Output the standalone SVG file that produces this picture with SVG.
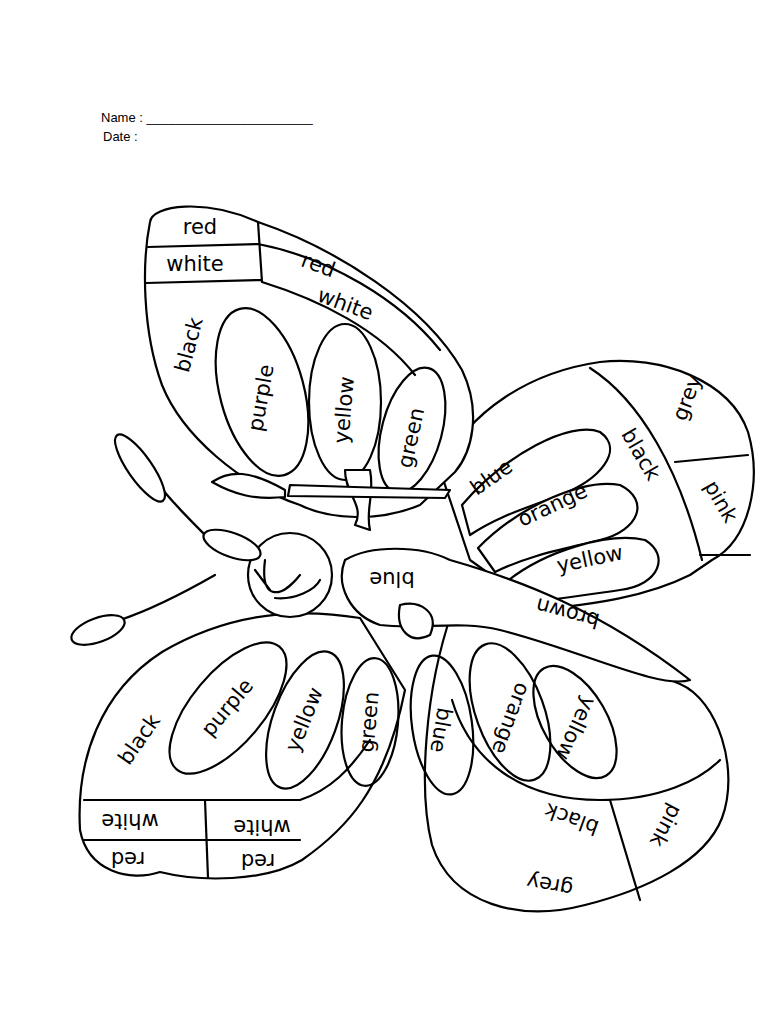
<svg xmlns="http://www.w3.org/2000/svg" width="768" height="1024" viewBox="0 0 768 1024">
<style>
.l{fill:none;stroke:#000;stroke-width:2.2;stroke-linecap:round;stroke-linejoin:round}
.w{fill:#fff;stroke:#000;stroke-width:2.2;stroke-linejoin:round}
.t{font-family:"DejaVu Sans",sans-serif;font-size:21px;fill:#000;text-anchor:middle;dominant-baseline:middle}
.h{font-family:"Liberation Sans",Arial,sans-serif;font-size:13px;fill:#000}
</style>
<rect width="768" height="1024" fill="#fff"/>
<text class="h" x="101" y="122">Name : _______________________</text>
<text class="h" x="103" y="141">Date   :</text>

<!-- upper right wing -->
<path class="w" d="M440,470 C470,410 530,372 600,362 C660,355 730,380 748,432 C762,480 750,540 712,560 L690,575 C640,600 580,605 540,610 L470,560 Z"/>
<path class="l" d="M590,368 C640,400 680,470 702,560 M675,462 L748,455 M700,555 L750,555"/>
<path class="w" d="M462,505 C505,455 570,420 600,432 C625,450 600,480 560,495 C530,507 500,515 470,535 Z"/>
<path class="w" d="M478,548 C520,505 585,478 620,485 C650,500 640,530 600,540 C560,550 530,555 495,572 Z"/>
<path class="w" d="M505,583 C545,550 610,532 645,540 C670,555 660,585 620,590 C580,596 545,600 520,605 Z"/>

<!-- upper left wing -->
<path class="w" d="M150,222 C152,205 205,198 258,222 C335,248 425,305 462,370 C482,412 472,452 455,472 L420,505 C380,522 330,520 300,505 C240,485 182,435 162,385 C142,330 142,262 150,222 Z"/>
<path class="l" d="M148,247 L258,244 M146,283 L262,280 M258,222 L262,282 M258,244 C330,258 400,300 440,350 M262,282 C320,300 380,330 415,375"/>
<ellipse class="l" cx="262" cy="392" rx="42" ry="86" transform="rotate(-15 262 392)"/>
<ellipse class="l" cx="345" cy="402" rx="36" ry="78"/>
<ellipse class="l" cx="412" cy="430" rx="30" ry="64" transform="rotate(15 412 430)"/>

<!-- lower right wing -->
<path class="w" d="M452,612 C425,690 418,790 432,845 C452,905 520,922 585,905 C645,890 705,862 722,818 C740,770 718,700 680,684 L600,650 Z"/>
<path class="l" d="M452,700 C470,760 520,800 600,800 C660,800 700,780 720,760 M610,800 L640,900"/>
<ellipse class="l" cx="442" cy="725" rx="30" ry="70" transform="rotate(-8 442 725)"/>
<ellipse class="l" cx="510" cy="712" rx="34" ry="72" transform="rotate(-20 510 712)"/>
<ellipse class="l" cx="575" cy="722" rx="32" ry="62" transform="rotate(-30 575 722)"/>

<!-- lower left wing -->
<path class="w" d="M360,618 C300,608 230,612 162,652 C100,692 76,760 80,830 C88,872 130,882 160,872 C200,882 265,882 302,860 C345,830 385,790 405,690 Z"/>
<path class="l" d="M84,800 L300,800 M84,840 L300,840 M205,800 L208,878 M300,800 C330,790 350,770 370,740"/>
<ellipse class="l" cx="228" cy="708" rx="36" ry="80" transform="rotate(40 228 708)"/>
<ellipse class="l" cx="305" cy="720" rx="32" ry="72" transform="rotate(20 305 720)"/>
<ellipse class="l" cx="370" cy="722" rx="28" ry="64" transform="rotate(5 370 722)"/>

<!-- body -->
<path class="w" d="M345,560 C370,545 420,545 450,560 C520,580 600,610 690,680 C660,690 580,650 500,630 C460,620 420,630 380,625 C350,615 335,585 345,560 Z"/>
<path class="w" d="M355,525 C365,505 345,495 345,470 L370,470 C375,495 365,510 370,530 Z"/>
<path class="w" d="M290,485 L450,490 L445,498 L288,496 Z"/>
<path class="w" d="M285,490 C250,470 230,470 212,482 C235,495 255,500 285,497 Z"/>
<path class="l" d="M215,545 C190,520 170,500 155,480"/>
<ellipse class="w" cx="140" cy="468" rx="12" ry="40" transform="rotate(-35 140 468)"/>
<path class="l" d="M215,575 C180,595 150,610 120,620"/>
<ellipse class="w" cx="98" cy="630" rx="28" ry="12" transform="rotate(-20 98 630)"/>
<circle class="w" cx="290" cy="575" r="42"/>
<ellipse class="w" cx="232" cy="545" rx="30" ry="12" transform="rotate(20 232 545)"/>
<path class="l" d="M265,560 C260,600 280,600 300,575 M255,570 L270,590 M275,598 C295,600 315,590 320,580"/>
<path class="w" d="M400,605 C420,600 440,612 430,635 C410,645 395,630 400,605 Z"/>

<g class="t">
<text x="200" y="228">red</text>
<text x="195" y="265">white</text>
<text x="318" y="266" transform="rotate(20 318 266)">red</text>
<text x="345" y="305" transform="rotate(20 345 305)">white</text>
<text x="190" y="345" transform="rotate(-75 190 345)">black</text>
<text x="262" y="398" transform="rotate(-80 262 398)">purple</text>
<text x="345" y="410" transform="rotate(-85 345 410)">yellow</text>
<text x="412" y="438" transform="rotate(-78 412 438)">green</text>
<text x="688" y="398" transform="rotate(-70 688 398)">grey</text>
<text x="640" y="455" transform="rotate(60 640 455)">black</text>
<text x="720" y="502" transform="rotate(60 720 502)">pink</text>
<text x="492" y="478" transform="rotate(-35 492 478)">blue</text>
<text x="553" y="506" transform="rotate(-25 553 506)">orange</text>
<text x="590" y="560" transform="rotate(-12 590 560)">yellow</text>
<text x="568" y="612" transform="rotate(195 568 612)">brown</text>
<text x="392" y="578" transform="rotate(180 392 578)">blue</text>
<text x="140" y="740" transform="rotate(-55 140 740)">black</text>
<text x="228" y="708" transform="rotate(-50 228 708)">purple</text>
<text x="305" y="720" transform="rotate(-68 305 720)">yellow</text>
<text x="370" y="722" transform="rotate(-85 370 722)">green</text>
<text x="130" y="820" transform="rotate(180 130 820)">white</text>
<text x="262" y="826" transform="rotate(180 262 826)">white</text>
<text x="128" y="858" transform="rotate(180 128 858)">red</text>
<text x="258" y="860" transform="rotate(180 258 860)">red</text>
<text x="440" y="730" transform="rotate(100 440 730)">blue</text>
<text x="510" y="718" transform="rotate(110 510 718)">orange</text>
<text x="575" y="728" transform="rotate(115 575 728)">yellow</text>
<text x="572" y="818" transform="rotate(200 572 818)">black</text>
<text x="665" y="825" transform="rotate(118 665 825)">pink</text>
<text x="550" y="884" transform="rotate(190 550 884)">grey</text>
</g>
</svg>
